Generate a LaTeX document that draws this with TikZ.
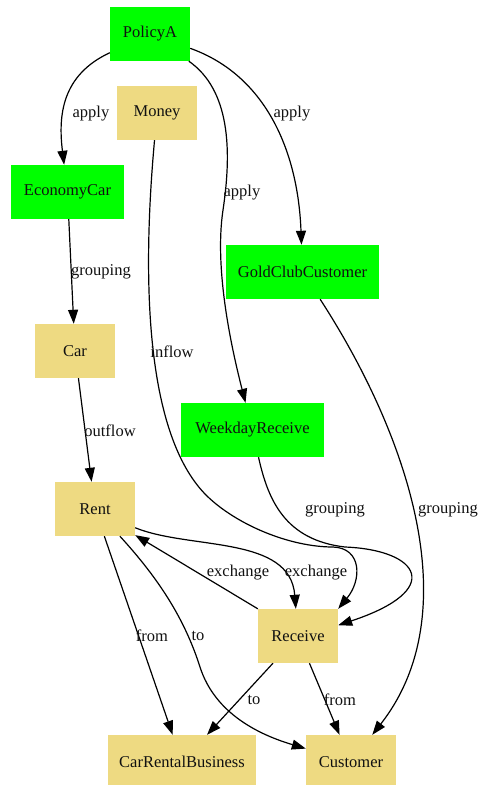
\documentclass[tikz,border=0pt]{standalone}
\usepackage{fontspec}
\setmainfont{Liberation Serif}
\usepackage{tikz}
\usetikzlibrary{arrows.meta}
\definecolor{rule}{HTML}{00FF00}
\definecolor{khaki}{HTML}{EEDA82}
\definecolor{ink}{HTML}{111111}

\begin{document}
\begin{tikzpicture}[x=1pt,y=-1pt,>={Triangle[length=14pt,width=10pt]},
  box/.style={rectangle,minimum height=54pt,minimum width=80pt,inner sep=0pt,text=ink,font=\fontsize{16.5}{20}\selectfont},
  pol/.style={box,fill=rule},
  con/.style={box,fill=khaki},
  edge/.style={->,line width=1.2pt},
  lab/.style={inner sep=0pt,text=ink,font=\fontsize{16.5}{20}\selectfont}]
  \useasboundingbox (0,0) rectangle (477,785);
  % nodes
  \node[pol] (policya) at (150,34) {PolicyA};
  \node[con] (money) at (157,113) {Money};
  \node[pol,minimum width=113pt] (economycar) at (67.5,192) {EconomyCar};
  \node[pol,minimum width=153pt] (goldclub) at (302.5,272) {GoldClubCustomer};
  \node[con] (car) at (75,351) {Car};
  \node[pol,minimum width=143pt] (weekday) at (252.5,430) {WeekdayReceive};
  \node[con] (rent) at (95,509) {Rent};
  \node[con] (receive) at (298,636) {Receive};
  \node[con,minimum width=148pt] (business) at (182,762) {CarRentalBusiness};
  \node[con,minimum width=90pt] (customer) at (351,762) {Customer};
  % edges
  \draw[edge] (policya) .. controls (62,75) and (58,115) .. (economycar);
  \draw[edge] (policya) .. controls (265,75) and (298,150) .. (goldclub);
  \draw[edge] (policya) .. controls (230,90) and (232,150) .. (223,210)
    .. controls (214,270) and (232,350) .. (weekday);
  \draw[edge] (money) .. controls (140,300) and (150,440) .. (207,496)
    .. controls (237,525) and (290,547) .. (333,547)
    .. controls (362,548) and (362,580) .. (receive.north east);
  \draw[edge] (economycar) -- (car);
  \draw[edge] (car) -- (rent);
  \draw[edge] (goldclub) .. controls (405,430) and (470,610) .. (customer);
  \draw[edge] (weekday) .. controls (268,500) and (285,540) .. (345,547)
    .. controls (420,550) and (445,590) .. (receive.15);
  \draw[edge] (rent.-25) .. controls (190,550) and (290,535) .. (receive);
  \draw[edge] (receive.north west) -- (rent.-33);
  \draw[edge] (rent) -- (business);
  \draw[edge] (rent) .. controls (160,580) and (185,620) .. (200,667)
    .. controls (215,714) and (260,735) .. (customer);
  \draw[edge] (receive) -- (business);
  \draw[edge] (receive) -- (customer);
  % labels
  \foreach \t/\x/\y [count=\i] in {apply/91/114,apply/292/114,apply/242/193,
      grouping/101/272,inflow/172/352,outflow/110/431,grouping/335/510,grouping/448/510,
      exchange/238/573,exchange/316/573,from/152/636,to/198/636,to/254/700,from/340/700}
    \node[lab] (lab\i) at (\x,\y) {\t};
\end{tikzpicture}
\end{document}
